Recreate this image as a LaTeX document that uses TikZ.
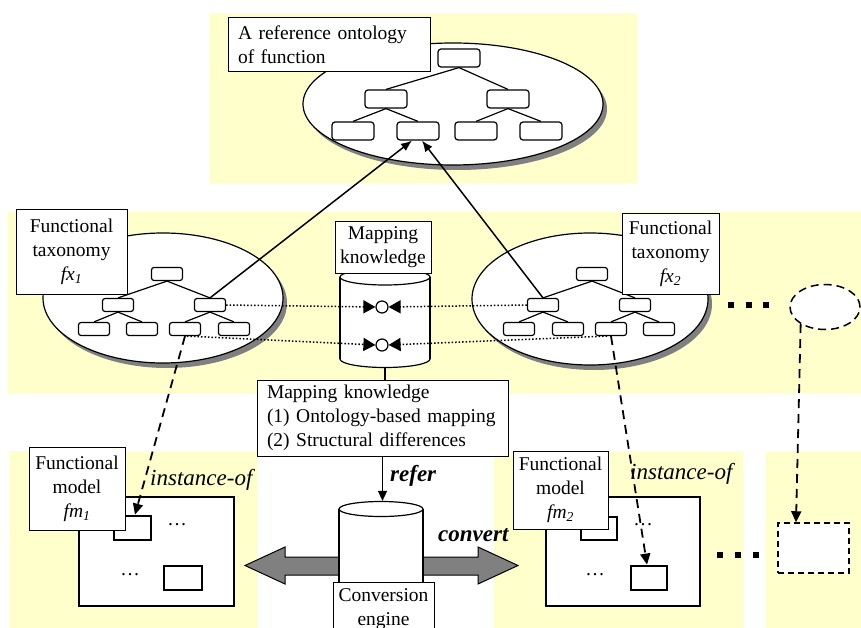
\documentclass[tikz,border=0pt]{standalone}
\usepackage{fontspec}
\setmainfont{Liberation Serif}
\usetikzlibrary{arrows.meta,shapes.geometric}
\definecolor{bgy}{HTML}{FFFFCC}
\definecolor{shad}{HTML}{808080}
\begin{document}
\begin{tikzpicture}[x=1pt,y=-1pt,
  txt/.style={font=\fontsize{19.5}{24}\selectfont},
  bigit/.style={font=\fontsize{23}{27}\selectfont\itshape, inner sep=0pt},
  bigbf/.style={font=\fontsize{23}{27}\selectfont\bfseries\itshape, inner sep=0pt},
  lbl/.style={draw, fill=white, line width=1pt, txt, align=center, inner sep=0pt},
  tbig/.style={draw, fill=white, rounded corners=3pt, line width=1.2pt, minimum width=42pt, minimum height=18pt, inner sep=0pt},
  tsmall/.style={tbig, minimum width=31pt, minimum height=13pt, rounded corners=2.5pt},
  treeline/.style={line width=1.2pt},
  ellbox/.style={ellipse, draw, fill=white, line width=1.2pt, inner sep=0pt},
  shadowell/.style={ellipse, fill=shad, inner sep=0pt},
  ybg/.style={fill=bgy},
  solidarr/.style={line width=1.5pt, -{Latex[length=11pt,width=9pt]}},
  dotl/.style={line width=1.5pt, dash pattern=on 1.5pt off 2pt, -{Triangle[length=12pt,width=13pt]}},
  dashl/.style={line width=1.8pt, dash pattern=on 9pt off 6pt, -{Triangle[length=11pt,width=10pt]}},
  thickr/.style={draw, fill=white, line width=2.8pt, inner sep=0pt},
  bigrect/.style={draw, fill=white, line width=1.2pt, inner sep=0pt},
  circ/.style={circle, draw, fill=white, line width=1.2pt, minimum size=12pt, inner sep=0pt},
  sq/.style={fill=black, minimum size=6pt, inner sep=0pt},
  cylbody/.style={fill=white},
  cylside/.style={line width=1.2pt},
  cylcap/.style={ellipse, draw, fill=white, line width=1.2pt, inner sep=0pt}
]
\useasboundingbox (0,0) rectangle (861,628);
\clip (0,0) rectangle (861,628);

% ---------- yellow backgrounds ----------
\fill[ybg] (210,13) rectangle (637,183);
\fill[ybg] (8,212) rectangle (861,393);
\fill[ybg] (10,451) rectangle (257,628);
\fill[ybg] (494,451) rectangle (743,628);
\fill[ybg] (766,451) rectangle (861,628);

% ---------- top reference ontology ----------
\node[shadowell, minimum width=300pt, minimum height=122pt] (TEs) at (457,109) {};
\node[ellbox, minimum width=300pt, minimum height=122pt] (TE) at (453,104) {};
\node[tbig] (T1) at (459,58) {};
\node[tbig] (T2a) at (386,99) {};
\node[tbig] (T2b) at (508,99) {};
\node[tbig] (T3a) at (353,131) {};
\node[tbig] (T3b) at (418,131) {};
\node[tbig] (T3c) at (476,131) {};
\node[tbig] (T3d) at (541,131) {};
\draw[treeline] (T1.south) -- (T2a.north);
\draw[treeline] (T1.south) -- (T2b.north);
\draw[treeline] (T2a.south) -- (T3a.north);
\draw[treeline] (T2a.south) -- (T3b.north);
\draw[treeline] (T2b.south) -- (T3c.north);
\draw[treeline] (T2b.south) -- (T3d.north);
\node[lbl, align=left, text width=182pt, inner xsep=10pt, minimum height=54pt] (TA) at (329,45) {A reference ontology\\of function};

% ---------- left functional taxonomy ----------
\node[shadowell, minimum width=240pt, minimum height=130pt] (LEs) at (167,303) {};
\node[ellbox, minimum width=240pt, minimum height=130pt] (LE) at (163,298) {};
\node[tsmall] (L1) at (167,274) {};
\node[tsmall] (L2a) at (118,305) {};
\node[tsmall] (L2b) at (210,305) {};
\node[tsmall] (L3a) at (94,329) {};
\node[tsmall] (L3b) at (142,329) {};
\node[tsmall] (L3c) at (185,329) {};
\node[tsmall] (L3d) at (234,329) {};
\draw[treeline] (L1.south) -- (L2a.north);
\draw[treeline] (L1.south) -- (L2b.north);
\draw[treeline] (L2a.south) -- (L3a.north);
\draw[treeline] (L2a.south) -- (L3b.north);
\draw[treeline] (L2b.south) -- (L3c.north);
\draw[treeline] (L2b.south) -- (L3d.north);
\node[lbl, minimum width=111pt, minimum height=84pt] (LX) at (71.5,252) {Functional\\taxonomy\\\textit{fx}\textsubscript{\textit{1}}};

% ---------- right functional taxonomy ----------
\node[shadowell, minimum width=236pt, minimum height=132pt] (REs) at (594,304) {};
\node[ellbox, minimum width=236pt, minimum height=132pt] (RE) at (590,299) {};
\node[tsmall] (R1) at (592,274) {};
\node[tsmall] (R2a) at (543,305) {};
\node[tsmall] (R2b) at (635,305) {};
\node[tsmall] (R3a) at (519,329) {};
\node[tsmall] (R3b) at (568,329) {};
\node[tsmall] (R3c) at (611,329) {};
\node[tsmall] (R3d) at (659,329) {};
\draw[treeline] (R1.south) -- (R2a.north);
\draw[treeline] (R1.south) -- (R2b.north);
\draw[treeline] (R2a.south) -- (R3a.north);
\draw[treeline] (R2a.south) -- (R3b.north);
\draw[treeline] (R2b.south) -- (R3c.north);
\draw[treeline] (R2b.south) -- (R3d.north);
\node[lbl, minimum width=97pt, minimum height=80pt] (RX) at (670.5,254) {Functional\\taxonomy\\\textit{fx}\textsubscript{\textit{2}}};

% ---------- mapping knowledge cylinder ----------
\node[cylcap, minimum width=90pt, minimum height=17pt] (MCb) at (385,359) {};
\fill[cylbody] (340,277) rectangle (430,359);
\draw[cylside] (340,277) -- (340,359) (430,277) -- (430,359);
\node[cylcap, minimum width=90pt, minimum height=16pt] (MCt) at (385,277) {};
\node[lbl, minimum width=96pt, minimum height=51pt] (MK) at (383,247.5) {Mapping\\knowledge};
\node[circ] (C1) at (382,307) {};
\node[circ] (C2) at (382,345) {};

% ---------- arrows to reference ontology ----------
\draw[solidarr] (L2b.north) -- ([xshift=-6pt]T3b.south);
\draw[solidarr] (R2a.north) -- ([xshift=4pt]T3b.south);

% ---------- dotted mapping lines ----------
\draw[dotl] (L2b.east) -- (C1.west);
\draw[dotl] (R2a.west) -- (C1.east);
\draw[dotl] ([xshift=2pt]L3c.south) -- (C2.west);
\draw[dotl] ([xshift=-4pt]R3c.south) -- (C2.east);

% ---------- further taxonomies ----------
\node[sq] (d1) at (731,304.5) {};
\node[sq] (d2) at (748.5,304.5) {};
\node[sq] (d3) at (766,304.5) {};
\node[ellipse, draw, fill=white, line width=1.5pt, dash pattern=on 8pt off 5pt, minimum width=70pt, minimum height=45pt, inner sep=0pt] (DE) at (825,307) {};

% ---------- mapping knowledge box ----------
\node[lbl, align=left, text width=231pt, inner xsep=10pt, minimum height=76pt] (MB) at (382.5,418) {Mapping knowledge\\(1) Ontology-based mapping\\(2) Structural differences};
\draw[line width=1.2pt] (MCb.south) -- (MCb.south |- MB.north);

% ---------- functional model fm1 ----------
\node[bigrect, minimum width=155pt, minimum height=109pt] (FM1) at (156.5,551.5) {};
\node[thickr, minimum width=37pt, minimum height=24pt] (FA1) at (132.5,528) {};
\node[thickr, minimum width=38pt, minimum height=24pt] (FA2) at (183,578) {};
\node[txt, inner sep=0pt] (FD1) at (177,525) {\dots};
\node[txt, inner sep=0pt] (FD2) at (130,575) {\dots};
\node[lbl, minimum width=96pt, minimum height=83pt] (FL1) at (77,488.5) {Functional\\model\\\textit{fm}\textsubscript{\textit{1}}};
\node[bigit, anchor=west] (IO1) at (150,480) {instance-of};

% ---------- functional model fm2 ----------
\node[bigrect, minimum width=154pt, minimum height=109pt] (FM2) at (623,551.5) {};
\node[thickr, minimum width=36pt, minimum height=23pt] (FB1) at (599,528.5) {};
\node[thickr, minimum width=36pt, minimum height=24pt] (FB2) at (649,578) {};
\node[txt, inner sep=0pt] (GD1) at (643,525) {\dots};
\node[txt, inner sep=0pt] (GD2) at (595,575) {\dots};
\node[lbl, minimum width=95pt, minimum height=78pt] (FL2) at (560.5,490) {Functional\\model\\\textit{fm}\textsubscript{\textit{2}}};
\node[bigit, anchor=west] (IO2) at (630,474) {instance-of};

% ---------- further models ----------
\node[sq] (e1) at (719.5,554.5) {};
\node[sq] (e2) at (738,554.5) {};
\node[sq] (e3) at (755.5,554.5) {};
\node[draw, fill=white, line width=1.5pt, dash pattern=on 6pt off 4pt, minimum width=71pt, minimum height=50pt, inner sep=0pt] (DR) at (813.5,548) {};

% ---------- instance-of dashed arrows ----------
\draw[dashl] (L3c.south) -- ([xshift=2.5pt]FA1.north);
\draw[dashl] (R3c.south) -- ([xshift=-2pt]FB2.north);
\draw[dashl] (DE.215) -- ([xshift=-17.5pt]DR.north);

% ---------- conversion engine ----------
\filldraw[fill=shad, draw=black, line width=1pt]
  (245,565.5) -- (285,547) -- (285,557) -- (478,557) -- (478,547) -- (518,565.5)
  -- (478,584) -- (478,575) -- (285,575) -- (285,584) -- cycle;
\fill[cylbody] (339,509) rectangle (423,600);
\draw[cylside] (339,509) -- (339,600) (423,509) -- (423,600);
\node[cylcap, minimum width=84pt, minimum height=15pt] (CET) at (381,509) {};
\node[lbl, minimum width=101pt, minimum height=54pt] (CB) at (383.5,609) {Conversion\\engine};
\draw[line width=1.5pt, -{Triangle[length=10pt,width=9pt]}] (MB.south) -- (MB.south |- CET.north);
\node[bigbf, anchor=west] (RF) at (390,476) {refer};
\node[bigbf, anchor=west] (CV) at (438,535) {convert};
\end{tikzpicture}
\end{document}
